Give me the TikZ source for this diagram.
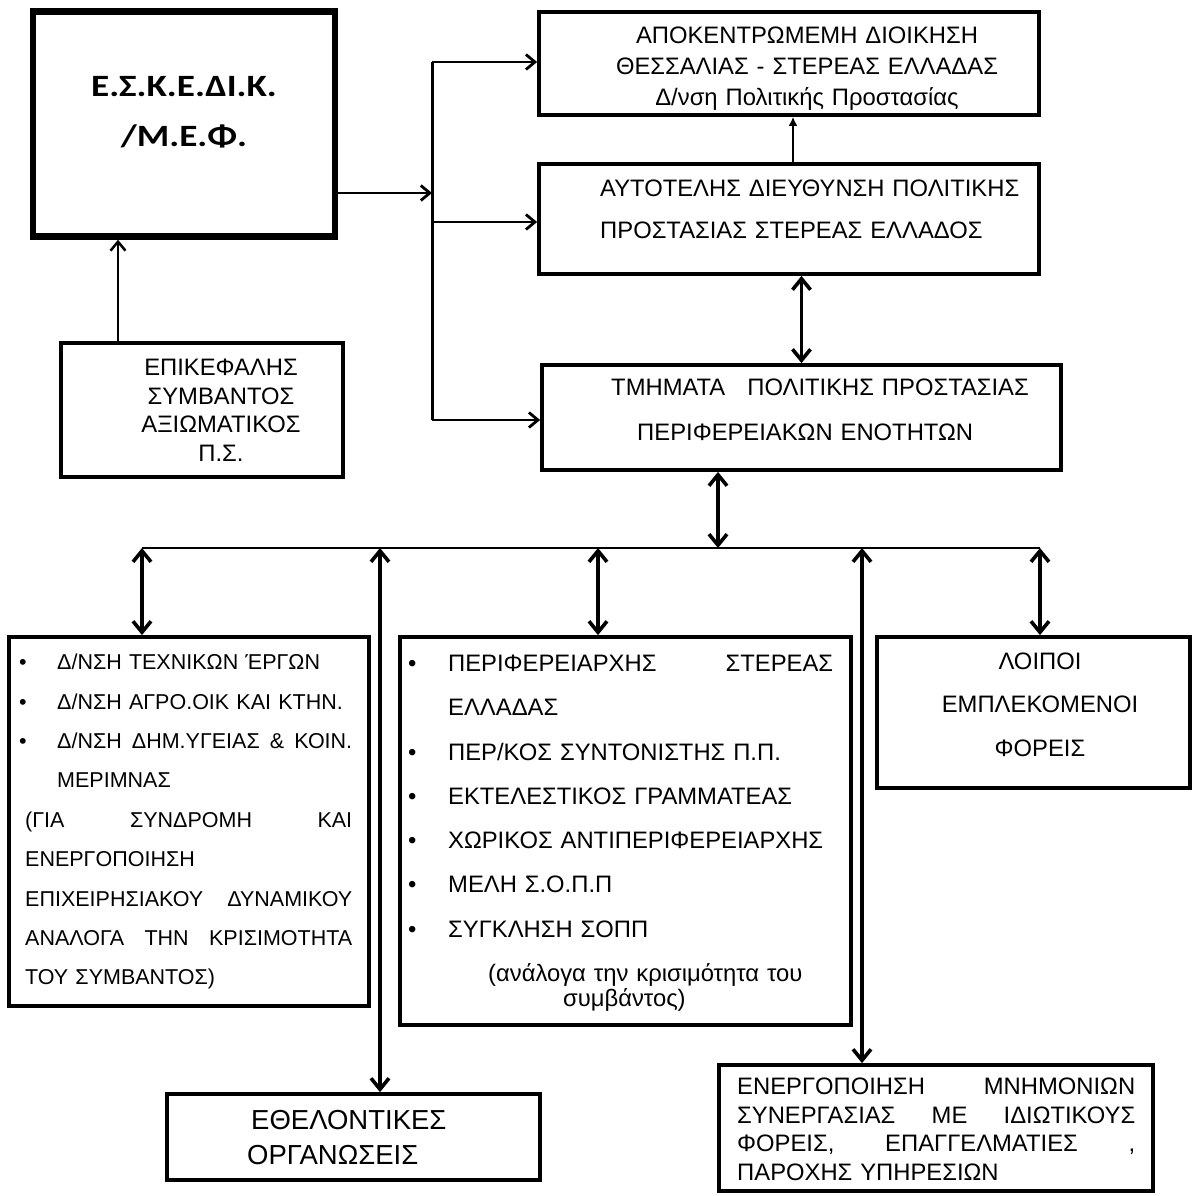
\documentclass[tikz,border=0pt]{standalone}
\usepackage{fontspec}
\setmainfont{Liberation Sans}
\newfontfamily\calibri{Carlito}[FakeStretch=1.2]
\usepackage{tikz}
\usetikzlibrary{arrows.meta}
\tikzset{box/.style = {draw, line width=3.8pt, inner sep=0pt},
         txt/.style = {inner sep=0pt, text width=#1},
         conn/.style = {line width=2.8pt, -{Straight Barb[length=9pt, width=15pt]}},
         dbl/.style = {line width=3.6pt,
                       {Straight Barb[length=11pt, width=18pt]}-{Straight Barb[length=11pt, width=18pt]}},
         bus/.style = {line width=2.2pt}}
\newcommand{\blt}[2]{\makebox[#2][l]{\hspace*{#1}\textbullet}}
\newcommand{\jline}[2][\hsize]{\makebox[#1][s]{\spaceskip=.25em plus 1fil\xspaceskip=\spaceskip\relax #2}}
\newcommand{\fs}[2]{\fontsize{#1}{#2}\selectfont}

\begin{document}
\begin{tikzpicture}[x=1pt, y=-1pt]
  \path[use as bounding box, fill=white] (0,0) rectangle (1193,1196);

  \node[box, line width=6.5pt, minimum width=302pt, minimum height=225pt] (eskedik) at (184,124) {};
  \node[box, minimum width=500pt, minimum height=103pt] (apok) at (789,63.5) {};
  \node[box, minimum width=500pt, minimum height=110pt] (autot) at (789,219) {};
  \node[box, minimum width=519pt, minimum height=105pt] (tmimata) at (801.5,417.5) {};
  \node[box, minimum width=282pt, minimum height=134pt] (epikef) at (202,410) {};
  \node[box, minimum width=360pt, minimum height=369pt] (dnseis) at (189,821.5) {};
  \node[box, minimum width=451pt, minimum height=388pt] (perif) at (625.5,831) {};
  \node[box, minimum width=313pt, minimum height=151pt] (loipoi) at (1033.5,712.5) {};
  \node[box, minimum width=373pt, minimum height=86pt] (ethel) at (353.5,1137) {};
  \node[box, minimum width=434pt, minimum height=126pt] (mnimonia) at (936,1128) {};

  \node[txt=300pt, align=center, anchor=base, font=\fs{31}{50}\calibri\bfseries] (eskedik-t) at (184,97)
    {Ε.Σ.Κ.Ε.ΔΙ.Κ.\\/Μ.Ε.Φ.};
  \node[txt=480pt, align=center, anchor=base, font=\fs{23.8}{31}] (apok-t) at (807,43.4)
    {ΑΠΟΚΕΝΤΡΩΜΕΜΗ ΔΙΟΙΚΗΣΗ\\ΘΕΣΣΑΛΙΑΣ - ΣΤΕΡΕΑΣ ΕΛΛΑΔΑΣ\\Δ/νση Πολιτικής Προστασίας};
  \node[txt=430pt, align=left, anchor=base west, font=\fs{23.8}{42}] (autot-t) at (600,196.4)
    {ΑΥΤΟΤΕΛΗΣ ΔΙΕΥΘΥΝΣΗ ΠΟΛΙΤΙΚΗΣ\\ΠΡΟΣΤΑΣΙΑΣ ΣΤΕΡΕΑΣ ΕΛΛΑΔΟΣ};
  \node[txt=440pt, align=left, anchor=base west, font=\fs{23.8}{45}] (tmimata-t) at (611,395.4)
    {ΤΜΗΜΑΤΑ\hspace{22pt}ΠΟΛΙΤΙΚΗΣ ΠΡΟΣΤΑΣΙΑΣ\\\hspace*{26pt}ΠΕΡΙΦΕΡΕΙΑΚΩΝ ΕΝΟΤΗΤΩΝ};
  \node[txt=270pt, align=center, anchor=base, font=\fs{23.8}{28.7}] (epikef-t) at (221,375.4)
    {ΕΠΙΚΕΦΑΛΗΣ\\ΣΥΜΒΑΝΤΟΣ\\ΑΞΙΩΜΑΤΙΚΟΣ\\Π.Σ.};
  \node[txt=327pt, align=left, anchor=base west, font=\fs{21.5}{39.4}] (dnseis-t) at (25,669.6)
    {\blt{-6pt}{32pt}Δ/ΝΣΗ ΤΕΧΝΙΚΩΝ ΈΡΓΩΝ\\
     \blt{-6pt}{32pt}Δ/ΝΣΗ ΑΓΡΟ.ΟΙΚ ΚΑΙ ΚΤΗΝ.\\
     \blt{-6pt}{32pt}\jline[\dimexpr\hsize-32pt\relax]{Δ/ΝΣΗ ΔΗΜ.ΥΓΕΙΑΣ \& ΚΟΙΝ.}\\
     \hspace*{32pt}ΜΕΡΙΜΝΑΣ\\
     \jline{(ΓΙΑ ΣΥΝΔΡΟΜΗ ΚΑΙ}\\
     ΕΝΕΡΓΟΠΟΙΗΣΗ\\
     \jline{ΕΠΙΧΕΙΡΗΣΙΑΚΟΥ ΔΥΝΑΜΙΚΟΥ}\\
     \jline{ΑΝΑΛΟΓΑ ΤΗΝ ΚΡΙΣΙΜΟΤΗΤΑ}\\
     ΤΟΥ ΣΥΜΒΑΝΤΟΣ)};
  \node[txt=428pt, align=left, anchor=base west, font=\fs{23.8}{44.3}] (perif-t) at (405,671.4)
    {\blt{3pt}{43pt}\jline[\dimexpr\hsize-43pt\relax]{ΠΕΡΙΦΕΡΕΙΑΡΧΗΣ ΣΤΕΡΕΑΣ}\\
     \hspace*{43pt}ΕΛΛΑΔΑΣ\\
     \blt{3pt}{43pt}ΠΕΡ/ΚΟΣ ΣΥΝΤΟΝΙΣΤΗΣ Π.Π.\\
     \blt{3pt}{43pt}ΕΚΤΕΛΕΣΤΙΚΟΣ ΓΡΑΜΜΑΤΕΑΣ\\
     \blt{3pt}{43pt}ΧΩΡΙΚΟΣ ΑΝΤΙΠΕΡΙΦΕΡΕΙΑΡΧΗΣ\\
     \blt{3pt}{43pt}ΜΕΛΗ Σ.Ο.Π.Π\\
     \blt{3pt}{43pt}ΣΥΓΚΛΗΣΗ ΣΟΠΠ\\
     \hspace*{83pt}(ανάλογα την κρισιμότητα του\\[-19pt]
     \hspace*{158pt}συμβάντος)};
  \node[txt=300pt, align=center, anchor=base, font=\fs{23.8}{43.5}] (loipoi-t) at (1040,669.4)
    {ΛΟΙΠΟΙ\\ΕΜΠΛΕΚΟΜΕΝΟΙ\\ΦΟΡΕΙΣ};
  \node[txt=280pt, align=left, anchor=base west, font=\fs{27.5}{35}] (ethel-t) at (247,1129.5)
    {\hspace*{4pt}ΕΘΕΛΟΝΤΙΚΕΣ\\ΟΡΓΑΝΩΣΕΙΣ};
  \node[txt=398pt, align=left, anchor=base west, font=\fs{23.8}{28.7}] (mnimonia-t) at (737,1094.4)
    {\jline{ΕΝΕΡΓΟΠΟΙΗΣΗ ΜΝΗΜΟΝΙΩΝ}\\
     \jline{ΣΥΝΕΡΓΑΣΙΑΣ ΜΕ ΙΔΙΩΤΙΚΟΥΣ}\\
     \jline{ΦΟΡΕΙΣ, ΕΠΑΓΓΕΛΜΑΤΙΕΣ ,}\\
     ΠΑΡΟΧΗΣ ΥΠΗΡΕΣΙΩΝ};

  \coordinate (hub) at (432,193);
  \coordinate (hubt) at (432,62);
  \coordinate (hubm) at (432,222);
  \coordinate (hubb) at (432,420);
  \coordinate (epx) at (118,0);
  \coordinate (bus0) at (718,548);
  \coordinate (bus1) at (142,548);
  \coordinate (bus2) at (380,548);
  \coordinate (bus3) at (598,548);
  \coordinate (bus4) at (862,548);
  \coordinate (bus5) at (1040,548);

  \draw[conn] (eskedik.east |- hub) -- (hub);
  \draw[line width=3pt] (hubt) -- (hubb);
  \draw[conn] (hubt) -- (hubt -| apok.west);
  \draw[conn] (hubm) -- (hubm -| autot.west);
  \draw[conn] (hubb) -- (hubb -| tmimata.west);
  \draw[conn, line width=2.5pt] (epikef.north -| epx) -- (eskedik.south -| epx);
  \draw[conn, line width=2pt, -{Latex[length=9pt, width=9pt]}] ([xshift=4pt]autot.north) -- ([xshift=4pt]apok.south);
  \draw[dbl] (autot.south -| tmimata.north) -- (tmimata.north);
  \draw[dbl] (tmimata.south -| bus0) -- (bus0);
  \draw[bus] (bus1) -- (bus5);
  \foreach \b/\n in {bus1/dnseis, bus2/ethel, bus3/perif, bus4/mnimonia, bus5/loipoi}
    \draw[dbl] (\b) -- (\b |- \n.north);
\end{tikzpicture}
\end{document}
